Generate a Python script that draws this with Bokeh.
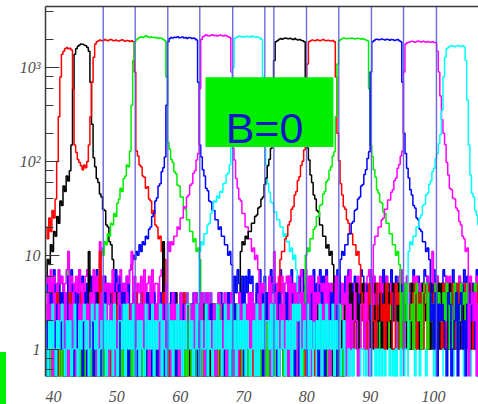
import numpy as np
from bokeh.plotting import figure
from bokeh.models import LinearAxis, FixedTicker, LogTicker, CustomJSTickFormatter, Div
from bokeh.layouts import row, column
from bokeh.core.properties import value
from bokeh.embed import file_html
from bokeh.resources import INLINE

# ---------------- data ----------------
bin_start = 38.75
bin_width = 0.25
n_bins = 277

x_ticks = [40, 50, 60, 70, 80, 90, 100]
cut_positions = [47.85, 52.9, 58.05, 63.1, 68.3, 73.37, 74.8, 79.95, 85.05, 90.2, 95.27, 100.47]

label_text = "B=0"

# low-count bins, one character per bin: 0-9 literal, a=11, b=14, c=18
noise_purple = ("3243142324 2432314243 4213243132 1342431324 3124234241 2431342312 4312124343 1243432131 "
                "3421213424 2134342143 4312431232 1423124341 3241342213 2314213432 4132341241 1423432314 "
                "3241213423 2413342132 4132124341 1324431213 3241342132 2413213424 4132341231 1324123243 "
                "3241432314 2413214132 4132343241 1324132413")
noise_black1 = ("0102010201 2010120102 1020102012 0201201020 1020010210 2101020102 0120201012 1020102101 "
                "0210120201 1302103120 2031203102 0213021302 3120312031 1203120213 2130213021 0312031203 "
                "2103120312 1320213021 3012031203 2413524153 4152341524 1524315342 3541254213 5213421534 "
                "2435142351 4125341252 1354213425 3421534124")
noise_red1 = ("1020102010 0102012010 2010201201 0120102012 1201020102 0210201020 1020120102 2010210201 "
              "0201020120 3102130201 0213020312 2031203102 1302130213 0213021302 3102310213 2031203120 "
              "1320132031 0213201302 2130213021 3524153241 1452315342 4215342153 2351425341 5142351423 "
              "3415234152 1534215324 4253142531 2145325143")
noise_green1 = ("2040103070 1030a01041 0302050310 2040130b02 1301070130 0140302010 2013a10301 1030201040 "
                "0301020702 2130213021 1203102312 3021302130 0312031203 2103210312 1320130213 0231023102 "
                "3102130213 2013201302 1230123012 4251342513 2543152435 5132453142 3425134251 1354235413 "
                "4213524132 2541342154 5324153423 3142543215")
noise_blue1 = ("4625174536 5342647354 3756435264 6473524635 4253746352 5637425364 3475263547 6352474635 "
               "2563746354 4736253647 5264735263 3647252736 4752636475 6325474263 3574625374 5246373526 "
               "4673524637 2537464752 5463725346 3725463527 6453274635 4237564372 5642735463 3574262547 "
               "6245373624 4763524735 2654736245 5372645362")
noise_magenta1 = ("5647365475 6357a46536 4735467534 7364b36453 5473356745 3657a36354 6473563725 5367354b63 "
                  "7435463354 4653736453 6437645463 5763534635 3546753564 6374635453 4635a54646 3563645354 "
                  "6734736463 4365453635 3546364534 6473453643 4356734635 3645463354 5436754563 4563635453 "
                  "3654a53645 5346364534 4635543463 3564356354")
noise_cyan1 = ("2113212312 1231132122 3121123213 1322131211 2312213132 1132121231 3211231321 1223113212 "
               "2131221312 1312211323 2121313112 3112232131 1231121321 2213131212 1321213113 3112123212 "
               "2231311213 1213221131 3121132212 1001000100 0010010000 1000100001 0100000110 0001001000 "
               "1000010000 0110000100 0000100010 0010001000")
noise_black2 = ("1032010340 0310140201 3001402a03 1040310210 0102430201 4010320102 0301401003 1030b10201 "
                "2140201030 0213120302 3102031201 1230210312 2013120203 0321031202 1203201310 3012130201 "
                "2130201203 0312102130 1203310212 3251425134 5134213452 2413534215 4325142351 1542341253 "
                "3215432154 5342153412 2154234513 4231542315")
noise_red2 = ("0130010402 3001040103 1040301002 0301a02130 2040301004 1003010410 0410030103 3001402030 "
              "1030010401 3120213021 0231302130 2103021312 1320130203 3012203121 0231130212 2103021302 "
              "1230312013 3021203120 0213120302 4153241534 2341534215 5423152341 1534213452 3245134215 "
              "4152345132 2513423541 5341252134 1425314253")
noise_green2 = ("1020100210 0201020012 2010102001 0102010220 1200201010 0210102002 2001020120 0120201002 "
                "1002102010 2301203120 1023120301 3210302102 0132013201 2301320130 1023102312 3201230120 "
                "0312013201 2130301203 1302120312 5241352413 3152413524 1435241352 4253142531 2314523145 "
                "5142315342 3425142153 1253415234 4532154321")
noise_blue2 = ("2031420314 1402312041 3120430213 0412031402 2304120341 4102314023 1320413042 0241302134 "
               "3401240312 2130420341 1042313024 4301240213 0213402134 3120341024 2403120431 1340213042 "
               "0421304132 3102430214 2410320341 4023140213 1302413024 3041230142 0214031243 2430120341 "
               "1042314032 3210430124 0341203142 4120341023")
noise_magenta2 = ("2413042132 3142031420 1324213042 4203142130 2314024312 0421324130 3142302413 1403214230 "
                  "4231042132 2130423142 0341213024 3214031420 1042313240 4130241312 2403142031 3120421340 "
                  "0413214023 2341032140 1204313420 4031242013 3142013240 0234142031 2410323142 1302413024 "
                  "4213042310 0341320142 3120412034 2403142013")
noise_cyan2 = ("1021310212 3102120131 0212312013 2130121302 1203102213 0312130120 2103121302 1230210312 "
               "0213120213 3120131021 1302102131 2013120312 0312130210 1203021312 2130312012 1021203132 "
               "3012130210 0213021312 1302130120 0100100001 1000010010 0010000100 0100100000 1000001001 "
               "0001000100 0100010000 1000100001 0010000100")

peak_red1_start = 38.75
peak_red1 = [20, 15, 25, 18, 30, 25, 40, 100, 300, 800, 1400, 1500, 1600, 1650, 1600, 1620, 1550, 600, 150,
             125, 105, 98, 90, 82, 92, 86, 100, 150, 300, 700, 1300, 1800,
             1900, 1950, 1980, 1940, 1960, 2000, 1970, 1950, 1990, 2010, 1960, 1940, 1980, 1950, 1930, 1970,
             1990, 1950, 1920, 1960, 1940, 1910, 1950, 1900, 900, 130,
             115, 92, 88, 70, 68, 52, 54, 40, 38, 28, 30, 21, 20, 15, 16, 11, 12, 9]
peak_black1_start = 38.75
peak_black1 = [6, 9, 8, 13, 11, 18, 16, 26, 22, 38, 34, 55, 48, 70, 62, 80, 150, 600, 1400,
               1600, 1700, 1750, 1800, 1780, 1750, 1720, 1650, 1500, 700, 250, 110,
               88, 66, 60, 45, 42, 31, 30, 21, 20, 14, 13, 9]
peak_green1_start = 47.25
peak_green1 = [9, 12, 10, 14, 13, 17, 16, 22, 21, 28, 26, 36, 40, 52, 48, 66, 70, 92, 88, 130, 400, 1200,
               1900, 2000, 2050, 2100, 2150, 2100, 2150, 2200, 2150, 2100, 2150, 2100, 2120, 2080, 2100, 2050,
               2080, 2050, 2000, 1950, 800, 160,
               135, 105, 98, 78, 74, 56, 55, 42, 42, 33, 31, 24, 24, 18, 18, 14, 15, 11, 12, 9]
peak_blue1_start = 52.25
peak_blue1 = [8, 10, 9, 11, 10, 13, 11, 14, 13, 16, 15, 19, 20, 26, 28, 38, 41, 55, 58, 78, 86, 112, 400,
              1900, 2050, 2100, 2080, 2120, 2100, 2150, 2090, 2100, 2130, 2080, 2100, 2060, 2110, 2090, 2050,
              2080, 2040, 1980, 700, 150,
              112, 82, 70, 52, 49, 38, 37, 30, 30, 24, 24, 19, 20, 16, 16, 13, 13, 10, 11, 8]
peak_magenta1_start = 58.25
peak_magenta1 = [11, 14, 13, 16, 16, 20, 19, 25, 25, 33, 32, 42, 44, 56, 58, 75, 80, 104, 122, 600,
                 2000, 2150, 2200, 2250, 2200, 2180, 2220, 2250, 2200, 2230, 2190, 2210, 2240, 2200, 2180,
                 2220, 2190, 2150, 2100, 900, 140,
                 104, 66, 52, 40, 38, 28, 28, 20, 20, 15, 15, 11, 12, 9, 10, 7]
peak_cyan1_start = 63.0
peak_cyan1 = [11, 14, 13, 17, 17, 21, 22, 28, 30, 38, 37, 43, 41, 48, 47, 58, 59, 73, 75, 92, 150, 1000,
              2050, 2100, 2150, 2180, 2150, 2120, 2160, 2140, 2170, 2150, 2130, 2180, 2150, 2120, 2140, 2100,
              2080, 2000, 800, 200,
              92, 58, 47, 37, 36, 29, 29, 24, 24, 20, 20, 16, 17, 14, 14, 11, 12, 9, 10, 7]
peak_black2_start = 69.5
peak_black2 = [11, 14, 13, 16, 15, 18, 18, 22, 22, 26, 27, 32, 33, 40, 42, 57, 67, 90, 106, 138, 300, 1200,
               1900, 1950, 2000, 2050, 2020, 2060, 2080, 2050, 2040, 2070, 2030, 2010, 2050, 2000, 1980, 2010,
               1970, 1950, 1900, 700, 140,
               104, 72, 60, 44, 40, 30, 29, 21, 21, 16, 16, 12, 13, 10, 11, 8]
peak_red2_start = 75.75
peak_red2 = [9, 11, 11, 15, 16, 21, 23, 31, 33, 44, 48, 63, 69, 91, 101, 133, 250, 1100,
             1900, 1950, 1980, 1960, 1940, 1990, 1970, 1950, 1980, 2000, 1960, 1940, 1970, 1950, 1930, 1960,
             1900, 800, 200,
             102, 58, 44, 33, 31, 24, 22, 17, 17, 13, 13, 10, 11, 8]
peak_green2_start = 79.75
peak_green2 = [10, 12, 11, 15, 15, 19, 20, 26, 26, 34, 35, 45, 48, 61, 64, 81, 88, 114, 127, 300, 1100,
               1950, 2000, 2050, 2080, 2060, 2040, 2070, 2050, 2080, 2060, 2030, 2050, 2070, 2040, 2020, 2050,
               2010, 1980, 1950, 600, 150,
               113, 82, 68, 50, 46, 37, 36, 29, 28, 22, 22, 17, 17, 13, 13, 10, 11, 8]
peak_blue2_start = 85.25
peak_blue2 = [9, 11, 10, 13, 13, 17, 17, 22, 23, 30, 31, 40, 42, 55, 57, 73, 82, 108, 127, 900,
              1900, 1950, 2000, 2020, 1990, 2010, 2030, 2000, 1980, 2020, 2000, 1970, 2010, 1990, 1960, 1980,
              2000, 1950, 1900, 700, 200,
              122, 85, 67, 50, 44, 34, 32, 25, 24, 19, 18, 14, 14, 11, 12, 9]
peak_magenta2_start = 90.5
peak_magenta2 = [13, 16, 16, 20, 20, 24, 25, 31, 31, 39, 39, 47, 50, 63, 67, 85, 93, 115, 130, 900,
                 1800, 1850, 1880, 1900, 1920, 1900, 1880, 1910, 1930, 1900, 1890, 1920, 1900, 1880, 1910,
                 1890, 1870, 1900, 1860, 1850, 1500, 900, 500, 280, 200,
                 152, 98, 72, 52, 50, 41, 40, 32, 30, 23, 21, 16, 15, 11, 12]
peak_cyan2_start = 96.0
peak_cyan2 = [11, 14, 13, 16, 16, 20, 20, 25, 27, 34, 35, 44, 46, 57, 62, 78, 85, 108, 122, 155, 195, 350,
              800, 1300, 1600, 1650, 1700, 1720, 1700, 1680, 1710, 1730, 1700, 1690, 1720, 1680,
              1200, 450, 150, 72, 46, 42, 30, 27, 21, 20, 15, 15]

# draw order, colours
series = [
    ("purple", "#9236f2", noise_purple, None, []),
    ("black1", "#000000", noise_black1, peak_black1_start, peak_black1),
    ("red1", "#ff0000", noise_red1, peak_red1_start, peak_red1),
    ("green1", "#00ee00", noise_green1, peak_green1_start, peak_green1),
    ("blue1", "#0000ff", noise_blue1, peak_blue1_start, peak_blue1),
    ("magenta1", "#ff00ff", noise_magenta1, peak_magenta1_start, peak_magenta1),
    ("cyan1", "#00ffff", noise_cyan1, peak_cyan1_start, peak_cyan1),
    ("black2", "#000000", noise_black2, peak_black2_start, peak_black2),
    ("red2", "#ff0000", noise_red2, peak_red2_start, peak_red2),
    ("green2", "#00ee00", noise_green2, peak_green2_start, peak_green2),
    ("blue2", "#0000ff", noise_blue2, peak_blue2_start, peak_blue2),
    ("magenta2", "#ff00ff", noise_magenta2, peak_magenta2_start, peak_magenta2),
    ("cyan2", "#00ffff", noise_cyan2, peak_cyan2_start, peak_cyan2),
]

CHAR_VALUE = {"a": 11, "b": 14, "c": 18}

# ---------------- figure ----------------
Y_LO, Y_HI = 0.51, 4510
p = figure(width=472, height=404, x_range=(38.737, 107.11), y_range=(Y_LO, Y_HI),
           y_axis_type="log", output_backend="svg", toolbar_location=None,
           min_border_left=39, min_border_right=0, min_border_top=6, min_border_bottom=27)
p.outline_line_color = None
p.grid.visible = False
p.background_fill_color = "white"
p.border_fill_color = "white"

edges = bin_start + bin_width * np.arange(n_bins + 1)


def char_to_count(ch):
    return CHAR_VALUE[ch] if ch in CHAR_VALUE else int(ch)


def build_counts(noise, start, profile):
    chars = noise.replace(" ", "")[:n_bins]
    c = np.array([char_to_count(ch) for ch in chars], dtype=float)
    if len(c) < n_bins:
        c = np.concatenate([c, np.zeros(n_bins - len(c))])
    if start is not None:
        i0 = int(round((start - bin_start) / bin_width))
        for k, v in enumerate(profile):
            if 0 <= i0 + k < n_bins:
                c[i0 + k] = v
    return c


for name, color, noise, start, profile in series:
    c = build_counts(noise, start, profile)
    yv = np.where(c > 0, c, 0.05)
    yv = np.append(yv, yv[-1])
    p.step(edges, yv, mode="after", line_color=color, line_width=1.5)

# vertical cut lines
p.segment(x0=cut_positions, x1=cut_positions, y0=[Y_LO] * len(cut_positions),
          y1=[Y_HI] * len(cut_positions), line_color="#5b5bd8", line_width=1.4, line_alpha=0.9)

# label box
p.quad(left=[64.0], right=[84.2], bottom=[143], top=[792], fill_color="#00ee00", line_color=None)
p.text(x=[73.32], y=[227], text=[label_text], text_font=value("Liberation Sans"),
       text_font_size="43px", text_color="#1414c8", text_align="center", text_baseline="alphabetic")

# axes
tick_col = "#3a3a3a"
lab_col = "#505050"
yax = p.yaxis[0]
yax.ticker = LogTicker()
yax.formatter = CustomJSTickFormatter(code="""
const e = Math.round(Math.log10(tick));
const sup = {2: "\\u00b2", 3: "\\u00b3", 4: "\\u2074"};
if (e <= 0) return "1";
if (e == 1) return "10";
return "10" + (sup[e] || "");
""")
yax.axis_line_color = tick_col
yax.axis_line_width = 1.5
yax.major_tick_in = 14
yax.major_tick_out = 0
yax.minor_tick_in = 8
yax.minor_tick_out = 0
yax.major_tick_line_color = tick_col
yax.minor_tick_line_color = tick_col
yax.major_label_text_font = "Liberation Serif"
yax.major_label_text_font_style = "italic"
yax.major_label_text_font_size = "16px"
yax.major_label_text_color = lab_col
yax.major_label_standoff = 5

xax = p.xaxis[0]
xax.ticker = FixedTicker(ticks=x_ticks)
xax.axis_line_color = None
xax.major_tick_line_color = None
xax.minor_tick_line_color = None
xax.major_label_text_font = "Liberation Serif"
xax.major_label_text_font_style = "italic"
xax.major_label_text_font_size = "16px"
xax.major_label_text_color = lab_col
xax.major_label_standoff = 8

top_axis = LinearAxis(ticker=FixedTicker(ticks=[]), axis_line_color=tick_col, axis_line_width=1.5,
                      major_tick_line_color=None, minor_tick_line_color=None,
                      major_label_text_font_size="0px", major_label_standoff=0,
                      major_tick_out=0, major_tick_in=0)
p.add_layout(top_axis, "above")

# small green patch at the lower-left corner, left of the plot
gap = Div(text="", width=6, height=352, margin=0)
patch = Div(text="", width=6, height=52, margin=0, styles={"background-color": "#00ee00"})
layout = row(column(gap, patch, spacing=0), p, spacing=0)

open("out.html", "w").write(file_html(layout, INLINE))
